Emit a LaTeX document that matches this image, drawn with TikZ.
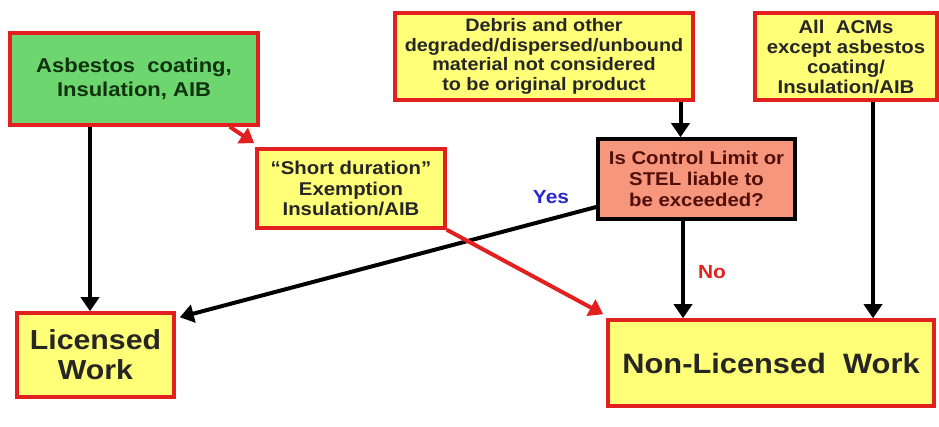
\documentclass[tikz,border=0pt]{standalone}
\usepackage{fontspec}
\setmainfont[FakeStretch=1.1]{Liberation Sans}
\usetikzlibrary{arrows.meta,calc}
\definecolor{boxred}{RGB}{226,32,32}
\definecolor{boxyellow}{RGB}{255,255,120}
\definecolor{boxgreen}{RGB}{110,214,110}
\definecolor{salmon}{RGB}{246,150,125}
\definecolor{yesblue}{RGB}{40,40,200}
\definecolor{darkgreen}{RGB}{15,50,15}
\definecolor{darkbrown}{RGB}{80,15,10}
\begin{document}
\begin{tikzpicture}[x=1pt,y=-1pt,
  box/.style={draw=boxred,line width=3.5pt,fill=boxyellow,align=center,inner sep=0pt,text=black!85},
  arr/.style={line width=4pt,-{Triangle[length=14pt,width=18pt]}},
  redarr/.style={arr,draw=boxred,fill=boxred}]
\useasboundingbox (0,0) rectangle (939,427);
\node[box,fill=boxgreen,minimum width=248pt,minimum height=92pt,text=darkgreen,
  font=\bfseries\fontsize{20}{24}\selectfont] (green) at (134,79)
  {Asbestos\ \ coating,\\Insulation, AIB};
\node[box,minimum width=188pt,minimum height=79pt,
  font=\bfseries\fontsize{18.5}{20.5}\selectfont] (short) at (351,188.5)
  {``Short duration''\\Exemption\\Insulation/AIB};
\node[box,minimum width=298pt,minimum height=87pt,
  font=\bfseries\fontsize{18}{19.5}\selectfont] (debris) at (544,56.5)
  {Debris and other\\degraded/dispersed/unbound\\material not considered\\to be original product};
\node[box,minimum width=182pt,minimum height=87pt,
  font=\bfseries\fontsize{18.5}{20}\selectfont] (acms) at (846,56.5)
  {All\ \ ACMs\\except asbestos\\coating/\\Insulation/AIB};
\node[box,draw=black,fill=salmon,minimum width=197pt,minimum height=80pt,text=darkbrown,
  font=\bfseries\fontsize{18.5}{21}\selectfont] (decision) at (696.5,179)
  {Is Control Limit or\\STEL liable to\\be exceeded?};
\node[box,minimum width=157pt,minimum height=84pt,
  font=\bfseries\fontsize{27.5}{30}\selectfont] (lic) at (95.5,355)
  {Licensed\\Work};
\node[box,minimum width=326pt,minimum height=86pt,
  font=\bfseries\fontsize{28}{30}\selectfont] (nonlic) at (771,363)
  {Non-Licensed\ \ Work};
% connectors
\draw[arr] ([xshift=-5.5pt]lic.north |- green.south) -- ([xshift=-5.5pt]lic.north);
\draw[arr] ([xshift=-16pt]decision.north |- debris.south) -- ([xshift=-16pt]decision.north);
\draw[arr] ([xshift=-13.5pt]decision.south) -- ([xshift=-13.5pt]decision.south |- nonlic.north);
\draw[arr] ([xshift=27pt]acms.south) -- ([xshift=27pt]acms.south |- nonlic.north);
\draw[arr] ([shift={(0,28)}]decision.west) -- ([shift={(4,6)}]lic.north east);
\draw[redarr] ([shift={(-30,0)}]green.south east) -- ([shift={(-1,-4)}]short.north west);
\draw[redarr] (short.south east) -- ([shift={(-3,-4)}]nonlic.north west);
% labels
\node[font=\bfseries\fontsize{19}{20}\selectfont,text=yesblue] (yes) at (551,197) {Yes};
\node[font=\bfseries\fontsize{19}{20}\selectfont,text=boxred] (no) at (712,272) {No};
\end{tikzpicture}
\end{document}
